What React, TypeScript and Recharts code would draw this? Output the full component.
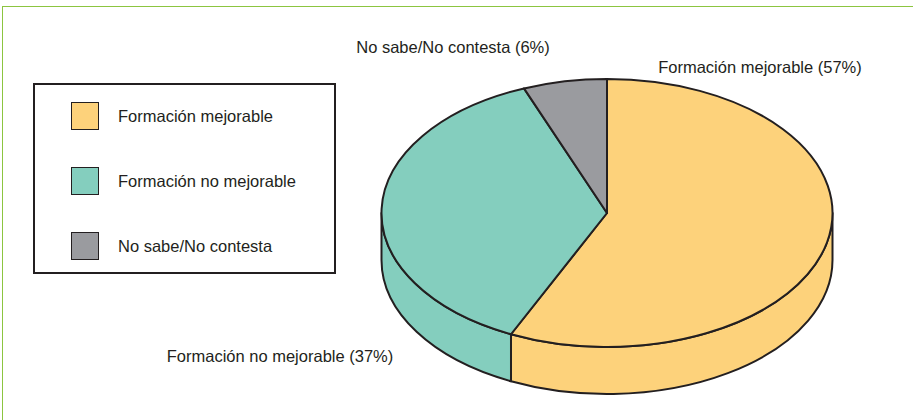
import React from 'react';
import { PieChart, Pie, Cell, Legend } from 'recharts';

const categories = ['Formación mejorable', 'Formación no mejorable', 'No sabe/No contesta'];
const percents = [57, 37, 6];
const colors = ['#FDD27B', '#84CEBE', '#9A9B9F'];

const data = categories.map((name, i) => ({ name, value: percents[i] }));

const INK = '#231F20';
const FONT = '"Liberation Sans", Arial, sans-serif';

// 3D look: squashed ellipse + a side wall
const CX = 607;
const CY = 213;
const RX = 225.5;
const RY = 134;
const DEPTH = 47;

// label placement relative to pie centre
const labelOffsets = [
  { dx: 153, dy: -146 },
  { dx: -327, dy: 143 },
  { dx: -154, dy: -166 },
];

const RAD = Math.PI / 180;
const pt = (cx: number, cy: number, a: number, dy = 0) =>
  `${(cx + RX * Math.cos(a * RAD)).toFixed(2)},${(cy - RY * Math.sin(a * RAD) + dy).toFixed(2)}`;

function TopFace(props: any) {
  const { cx, cy, startAngle, endAngle, fill } = props;
  const span = Math.abs(startAngle - endAngle);
  const large = span > 180 ? 1 : 0;
  const d = `M${cx},${cy} L${pt(cx, cy, startAngle)} A${RX},${RY} 0 ${large} 1 ${pt(cx, cy, endAngle)} Z`;
  return <path d={d} fill={fill} stroke={INK} strokeWidth={2} strokeLinejoin="round" />;
}

function SideFace(props: any) {
  const { cx, cy, startAngle, endAngle, fill } = props;
  // only the front half (angles -180..0) shows its wall
  const hi = Math.min(startAngle, 0);
  const lo = Math.max(endAngle, -180);
  if (hi <= lo) return <g />;
  const large = hi - lo > 180 ? 1 : 0;
  const d =
    `M${pt(cx, cy, hi)} A${RX},${RY} 0 ${large} 1 ${pt(cx, cy, lo)} ` +
    `L${pt(cx, cy, lo, DEPTH)} A${RX},${RY} 0 ${large} 0 ${pt(cx, cy, hi, DEPTH)} Z`;
  return <path d={d} fill={fill} stroke={INK} strokeWidth={2} strokeLinejoin="round" />;
}

function renderLabel(props: any) {
  const { cx, cy, index } = props;
  const off = labelOffsets[index];
  return (
    <text
      key={`lbl-${index}`}
      x={cx + off.dx}
      y={cy + off.dy}
      textAnchor="middle"
      dominantBaseline="central"
      fill={INK}
      style={{ fontFamily: FONT, fontSize: 16.5 }}
    >
      {`${categories[index]} (${percents[index]}%)`}
    </text>
  );
}

function LegendBox({ payload }: any) {
  const items = (payload || []).filter((p: any) => p.type !== 'none');
  return (
    <div
      style={{
        width: 299,
        height: 187,
        border: `2px solid ${INK}`,
        boxSizing: 'content-box',
        position: 'relative',
        fontFamily: FONT,
        fontSize: 16.5,
        color: INK,
      }}
    >
      {items.map((p: any, i: number) => (
        <div key={i} style={{ position: 'absolute', left: 36, top: 17 + i * 65, display: 'flex', alignItems: 'center' }}>
          <div
            style={{
              width: 26,
              height: 26,
              background: colors[i],
              border: `1.5px solid ${INK}`,
            }}
          />
          <span style={{ marginLeft: 19 }}>{p.value}</span>
        </div>
      ))}
    </div>
  );
}

export default function App() {
  return (
    <div style={{ position: 'absolute', left: 0, top: 0, width: 913, height: 420, background: '#fff', overflow: 'hidden' }}>
      <div
        style={{
          position: 'absolute',
          left: 2,
          top: 5.5,
          width: 920,
          height: 420,
          borderTop: '1.5px solid #8CC540',
          borderLeft: '1.5px solid #8CC540',
        }}
      />
      <PieChart width={913} height={420} margin={{ top: 0, right: 0, bottom: 0, left: 0 }}>
        <Pie
          data={data}
          dataKey="value"
          nameKey="name"
          cx={CX}
          cy={CY}
          outerRadius={RX}
          startAngle={90}
          endAngle={-270}
          isAnimationActive={false}
          legendType="none"
          shape={SideFace}
          activeShape={SideFace}
          inactiveShape={SideFace}
        >
          {data.map((d, i) => (
            <Cell key={d.name} fill={colors[i]} />
          ))}
        </Pie>
        <Pie
          data={data}
          dataKey="value"
          nameKey="name"
          cx={CX}
          cy={CY}
          outerRadius={RX}
          startAngle={90}
          endAngle={-270}
          isAnimationActive={false}
          shape={TopFace}
          activeShape={TopFace}
          inactiveShape={TopFace}
          label={renderLabel}
          labelLine={false}
        >
          {data.map((d, i) => (
            <Cell key={d.name} fill={colors[i]} />
          ))}
        </Pie>
        <Legend
          content={<LegendBox />}
          wrapperStyle={{ position: 'absolute', left: 33, top: 83, width: 'auto' }}
        />
      </PieChart>
    </div>
  );
}
